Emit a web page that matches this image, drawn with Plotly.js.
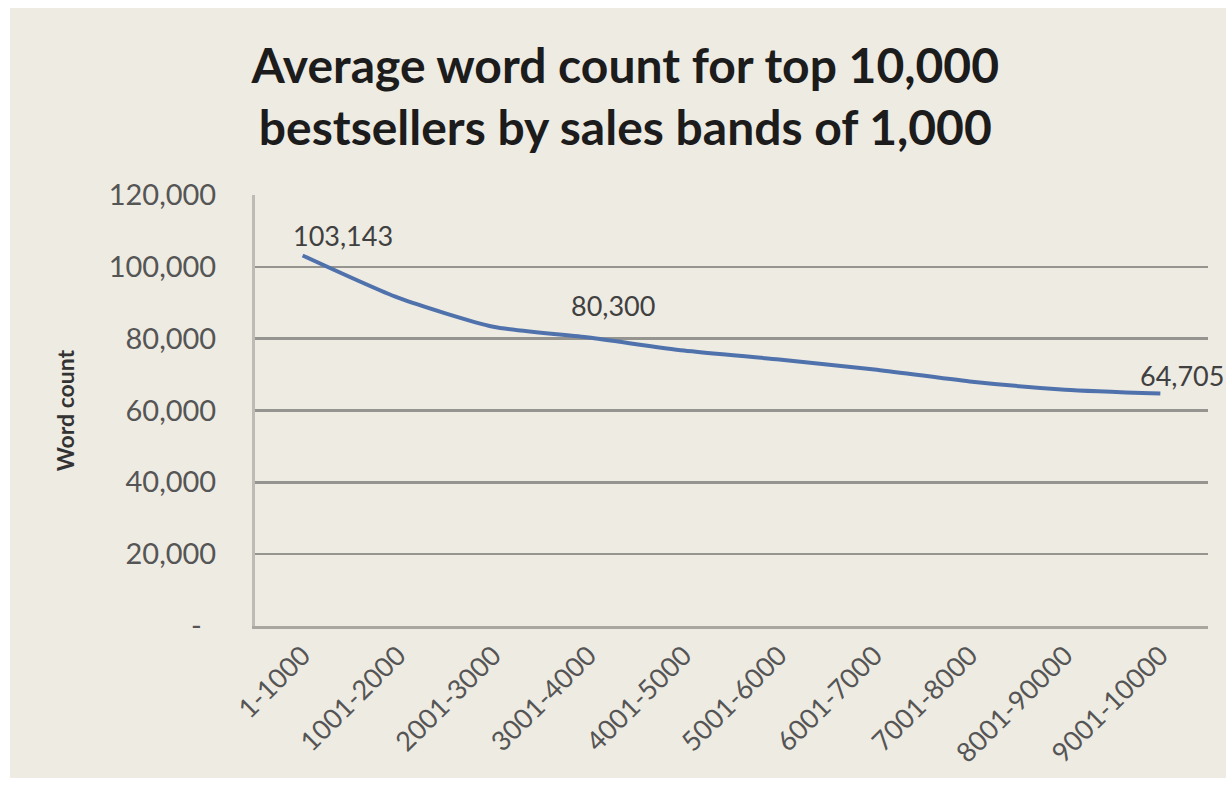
<!DOCTYPE html>
<html>
<head>
<meta charset="utf-8">
<script src="https://cdn.plot.ly/plotly-3.0.1.min.js"></script>
<style>
  html, body { margin: 0; padding: 0; background: #ffffff; width: 1226px; height: 786px; overflow: hidden; }
  #chart { position: absolute; left: 10px; top: 8px; width: 1216px; height: 770px; }
</style>
</head>
<body>
<div id="chart"></div>
<script>
const categories = ["1-1000", "1001-2000", "2001-3000", "3001-4000", "4001-5000",
                    "5001-6000", "6001-7000", "7001-8000", "8001-90000", "9001-10000"];
const wordCounts = [103143, 91400, 83300, 80300, 76700, 74200, 71400, 68100, 65800, 64705];
const labelledIdx = [0, 3, 9];
const yTickVals = [0, 20000, 40000, 60000, 80000, 100000, 120000];
const yTickText = ["-\u2002", "20,000", "40,000", "60,000", "80,000", "100,000", "120,000"];

const FONT = "Lato, 'Open Sans', 'Liberation Sans', sans-serif";
const labelShift = { 0: [-12, 2], 3: [-20, 14], 9: [-22, 0] };

const annotations = labelledIdx.map(i => ({
  x: categories[i], y: wordCounts[i], xref: 'x', yref: 'y',
  text: wordCounts[i].toLocaleString('en-US'),
  showarrow: false, xanchor: 'left', yanchor: 'bottom',
  xshift: labelShift[i][0], yshift: labelShift[i][1],
  font: { family: FONT, size: 27, color: '#404040' }
}));

const trace = {
  type: 'scatter', mode: 'lines',
  x: categories, y: wordCounts,
  line: { color: '#5072ac', width: 4, shape: 'spline', smoothing: 0.6 },
  hoverinfo: 'x+y'
};

const layout = {
  width: 1216, height: 770,
  paper_bgcolor: '#eeebe3', plot_bgcolor: '#eeebe3',
  margin: { l: 245, r: 18, t: 187, b: 152 },
  showlegend: false,
  title: {
    text: 'Average word count for top 10,000<br>bestsellers by sales bands of 1,000',
    font: { family: FONT, size: 48, color: '#1c1c1c', weight: 'bold' },
    x: 0.506, xanchor: 'center', xref: 'container',
    y: 0.903, yanchor: 'top', yref: 'container'
  },
  xaxis: {
    type: 'category', range: [-0.5, 9.5],
    tickangle: -45,
    tickfont: { family: FONT, size: 27, color: '#555555' },
    showgrid: false, zeroline: false,
    showline: true, linecolor: '#a9a7a0', linewidth: 3,
    ticks: '', fixedrange: true
  },
  yaxis: {
    range: [0, 120000],
    tickvals: yTickVals, ticktext: yTickText,
    tickfont: { family: FONT, size: 29, color: '#555555' },
    ticklabelstandoff: 30,
    showgrid: true, gridcolor: '#96948e', gridwidth: 2.5,
    zeroline: false,
    showline: true, linecolor: '#bdbbb4', linewidth: 3,
    ticks: '',
    title: { text: 'Word count', font: { family: FONT, size: 23, color: '#333333', weight: 'bold' }, standoff: 28 }
  },
  annotations: annotations
};

Plotly.newPlot('chart', [trace], layout, { displayModeBar: false, staticPlot: true });
</script>
</body>
</html>
